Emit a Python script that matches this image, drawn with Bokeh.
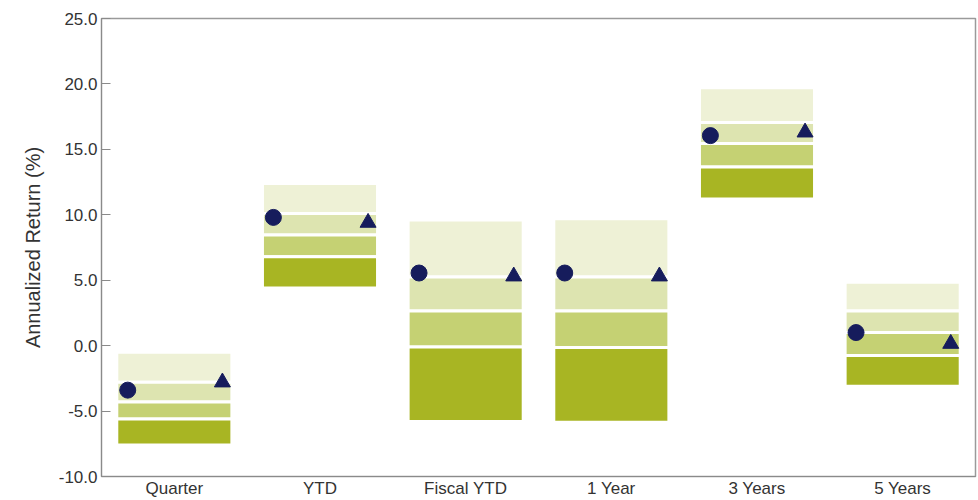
from bokeh.plotting import figure
from bokeh.models import ColumnDataSource, FactorRange, Range1d, FixedTicker, NumeralTickFormatter
from bokeh.transform import dodge
from bokeh.embed import file_html
from bokeh.resources import INLINE

# ---- data ----
categories = ["Quarter", "YTD", "Fiscal YTD", "1 Year", "3 Years", "5 Years"]
pct_5th = [-0.5, 12.4, 9.6, 9.7, 19.7, 4.85]
pct_25th = [-2.8, 10.1, 5.25, 5.25, 17.05, 2.65]
pct_median = [-4.3, 8.45, 2.65, 2.65, 15.45, 1.0]
pct_75th = [-5.6, 6.8, -0.1, -0.15, 13.65, -0.75]
pct_95th = [-7.6, 4.4, -5.8, -5.85, 11.2, -3.1]
portfolio = [-3.4, 9.8, 5.55, 5.55, 16.05, 1.0]
benchmark = [-2.8, 9.4, 5.3, 5.3, 16.3, 0.15]
y_ticks = [-10, -5, 0, 5, 10, 15, 20, 25]

# ---- styles ----
band_colors = ["#eef1d6", "#dde4b0", "#c5d173", "#a8b523"]
marker_color = "#161c5c"
font = "Liberation Sans"

p = figure(
    x_range=FactorRange(*categories, range_padding=0),
    y_range=Range1d(-10, 25),
    width=978, height=500,
    output_backend="svg", toolbar_location=None,
    min_border_left=101, min_border_right=3, min_border_top=18, min_border_bottom=22,
)

source = ColumnDataSource(dict(
    cat=categories, p5=pct_5th, p25=pct_25th, med=pct_median, p75=pct_75th, p95=pct_95th,
    port=portfolio, bench=benchmark,
))

bands = [("p5", "p25"), ("p25", "med"), ("med", "p75"), ("p75", "p95")]
for (top, bottom), color in zip(bands, band_colors):
    p.vbar(x="cat", top=top, bottom=bottom, width=0.79, source=source,
           fill_color=color, line_color="white", line_width=3)

p.scatter(x=dodge("cat", -0.32, range=p.x_range), y="port", source=source,
          marker="circle", size=16, fill_color=marker_color, line_color=marker_color)
p.scatter(x=dodge("cat", 0.33, range=p.x_range), y="bench", source=source,
          marker="triangle", size=16, fill_color=marker_color, line_color=marker_color)

p.xgrid.visible = False
p.ygrid.visible = False
p.outline_line_color = "#9a9a9a"
p.outline_line_width = 1.5

ya = p.yaxis[0]
ya.ticker = FixedTicker(ticks=y_ticks)
ya.formatter = NumeralTickFormatter(format="0.0")
ya.axis_label = "Annualized Return (%)"
ya.axis_label_text_font = font
ya.axis_label_text_font_size = "20px"
ya.axis_label_text_font_style = "normal"
ya.axis_label_text_color = "#333333"
ya.axis_label_standoff = 12
ya.major_label_text_font = font
ya.major_label_text_font_size = "17px"
ya.major_label_text_color = "#333333"
ya.major_label_standoff = 4
ya.major_tick_in = 9
ya.major_tick_out = 0
ya.minor_tick_line_color = None
ya.axis_line_color = "#8a8a8a"
ya.major_tick_line_color = "#8a8a8a"

xa = p.xaxis[0]
xa.major_label_text_font = font
xa.major_label_text_font_size = "17px"
xa.major_label_text_color = "#333333"
xa.major_label_standoff = 2
xa.major_tick_in = 0
xa.major_tick_out = 0
xa.major_tick_line_color = None
xa.axis_line_color = "#8a8a8a"

open("out.html", "w").write(file_html(p, INLINE))
